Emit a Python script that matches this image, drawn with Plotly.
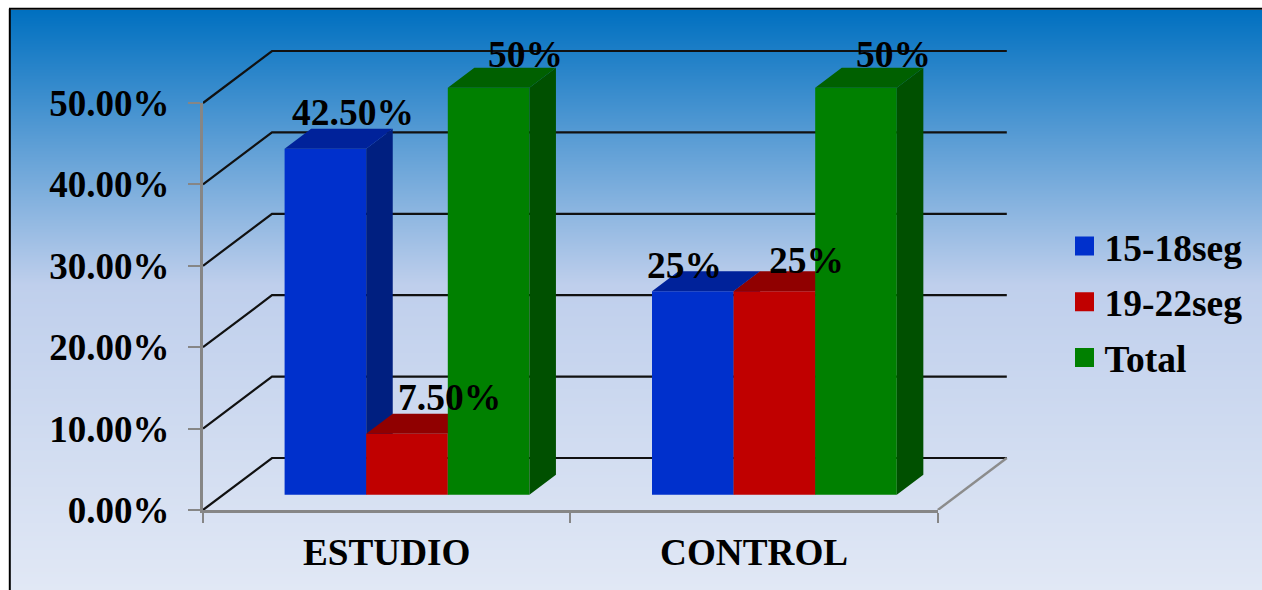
import plotly.graph_objects as go

# ---- data -------------------------------------------------------------
categories = ["ESTUDIO", "CONTROL"]
series_names = ["15-18seg", "19-22seg", "Total"]
values_15_18 = [42.5, 25]
values_19_22 = [7.5, 25]
values_total = [50, 50]
labels_15_18 = ["42.50%", "25%"]
labels_19_22 = ["7.50%", "25%"]
labels_total = ["50%", "50%"]
y_ticks = [0, 10, 20, 30, 40, 50]
y_tick_labels = ["0.00%", "10.00%", "20.00%", "30.00%", "40.00%", "50.00%"]

# ---- style ------------------------------------------------------------
W, H = 1262, 590
FONT = "Liberation Serif"
FS_Y, FS_X, FS_LAB, FS_LEG = 37, 37.2, 37.5, 37.5
front = ["#0030CC", "#C00000", "#008000"]
side = ["#001F80", "#800000", "#005000"]
top = ["#00229A", "#900000", "#006000"]
# label offsets in pixels from front-face top centre
lab_dx = [[28, -8], [42, 32], [37, 37]]
lab_dy = [[36, 26], [36, 31], [33, 33]]

X0, Y0 = 203, 510        # pixel of the front-left axis corner
SX, SY = 367.4, 8.14     # px per category, px per percent
DX, DY = 69 / SX, 52 / SY  # full floor depth in data units
D0, D1 = 15.3 / 52, 35.3 / 52  # bar depth span, fraction of floor
BW = 81.6 / SX

series = [values_15_18, values_19_22, values_total]
labels = [labels_15_18, labels_19_22, labels_total]

fig = go.Figure()

# background gradient
bg_y = [10, 285, 590]
bg_z = [[0, 0], [0.5, 0.5], [1, 1]]
fig.add_trace(go.Heatmap(x=[0, W], y=bg_y, z=bg_z, zsmooth="best", showscale=False, hoverinfo="skip",
                         colorscale=[[0, "#0070C0"], [0.5, "#BFCFEC"], [1, "#E1E8F5"]], zmin=0, zmax=1,
                         xaxis="x", yaxis="y"))

# back wall lines
wx, wy = [], []
for v in y_ticks:
    wx += [0, DX, 2 + DX, None]
    wy += [v, v + DY, v + DY, None]
fig.add_trace(go.Scatter(x=wx, y=wy, mode="lines", line=dict(color="#111111", width=2.2), showlegend=False,
                         hoverinfo="skip", xaxis="x2", yaxis="y2"))
fig.add_trace(go.Scatter(x=[2, 2 + DX], y=[0, DY], mode="lines", line=dict(color="#8C8C8C", width=2.4),
                         showlegend=False, hoverinfo="skip", xaxis="x2", yaxis="y2"))

# one layer per series so that later series cover the depth faces of earlier ones
for j, vals in enumerate(series):
    ax = j + 3
    xa, ya = f"x{ax}", f"y{ax}"
    base = D0 * DY
    centers = [i + 0.5 + (j - 1) * BW + D0 * DX for i in range(len(categories))]
    fig.add_trace(go.Bar(x=centers, y=vals, base=base, width=BW, marker=dict(color=front[j], line=dict(width=0)),
                         showlegend=False, hoverinfo="skip", xaxis=xa, yaxis=ya))
    ddx, ddy = (D1 - D0) * DX, (D1 - D0) * DY
    sx, sy, tx, ty = [], [], [], []
    for c, v in zip(centers, vals):
        xl, xr = c - BW / 2, c + BW / 2
        yt = base + v
        sx += [xr, xr + ddx, xr + ddx, xr, xr, None]
        sy += [base, base + ddy, yt + ddy, yt, base, None]
        tx += [xl, xr, xr + ddx, xl + ddx, xl, None]
        ty += [yt, yt, yt + ddy, yt + ddy, yt, None]
    for px, py, col in ((sx, sy, side[j]), (tx, ty, top[j])):
        fig.add_trace(go.Scatter(x=px, y=py, mode="lines", fill="toself", fillcolor=col, line=dict(width=0, color=col),
                                 showlegend=False, hoverinfo="skip", xaxis=xa, yaxis=ya))
    # legend entry
    fig.add_trace(go.Scatter(x=[None], y=[None], mode="markers", name=series_names[j], legendgroup=series_names[j],
                             marker=dict(symbol="square", size=16, color=front[j], line=dict(width=3, color=front[j])),
                             xaxis=xa, yaxis=ya))
    for i, (c, v) in enumerate(zip(centers, vals)):
        fig.add_annotation(x=c, y=base + v, xref=xa, yref=ya, text=labels[j][i], showarrow=False,
                           xshift=lab_dx[j][i], yshift=lab_dy[j][i], xanchor="center", yanchor="middle",
                           font=dict(family=FONT, size=FS_LAB, color="black", weight="bold"))

# visible front axes
fig.add_trace(go.Scatter(x=[None], y=[None], showlegend=False, hoverinfo="skip", xaxis="x6", yaxis="y6"))

def px_x(a, b):
    return [a / W, b / W]

def px_y(bottom, t):
    return [1 - bottom / H, 1 - t / H]

wide_x = dict(domain=px_x(X0, 1010), range=[0, (1010 - X0) / SX], visible=False, fixedrange=True)
wide_y = dict(domain=px_y(Y0, 40), range=[0, (Y0 - 40) / SY], visible=False, fixedrange=True)

layout = dict(
    width=W, height=H, margin=dict(l=0, r=0, t=0, b=0, pad=0, autoexpand=False),
    paper_bgcolor="white", plot_bgcolor="rgba(0,0,0,0)", barmode="overlay",
    xaxis=dict(domain=[10 / W, 1], range=[10, W], visible=False, fixedrange=True),
    yaxis=dict(domain=[0, 1 - 10 / H], range=[590, 10], visible=False, fixedrange=True),
    legend=dict(x=1064.5 / W, y=1 - 215 / H, xanchor="left", yanchor="top", bgcolor="rgba(0,0,0,0)",
                font=dict(family=FONT, size=FS_LEG, color="black", weight="bold"), traceorder="grouped",
                tracegroupgap=4, itemwidth=30),
    font=dict(family=FONT, size=FS_Y, color="black", weight="bold"),
    shapes=[
        dict(type="line", xref="paper", yref="paper", x0=9.8 / W, x1=9.8 / W, y0=0, y1=1 - 8.8 / H,
             line=dict(color="black", width=2), layer="above"),
        dict(type="line", xref="paper", yref="paper", x0=9 / W, x1=1, y0=1 - 8.8 / H, y1=1 - 8.8 / H,
             line=dict(color="black", width=2), layer="above"),
    ],
)
for n in (2, 3, 4, 5):
    layout[f"xaxis{n}"] = dict(wide_x, anchor=f"y{n}")
    layout[f"yaxis{n}"] = dict(wide_y, anchor=f"x{n}")
layout["xaxis6"] = dict(
    domain=px_x(X0, X0 + 2 * SX), range=[0, 2], anchor="y6", showline=True, linecolor="#868686", linewidth=3,
    tickmode="array", tickvals=[0.5, 1.5], ticktext=categories, ticks="", showgrid=False, zeroline=False,
    ticklabelstandoff=7, tickfont=dict(family=FONT, size=FS_X, color="black", weight="bold"),
    minor=dict(tickmode="array", tickvals=[0, 1, 2], ticks="outside", ticklen=10, tickwidth=2, tickcolor="#868686",
               showgrid=False),
    fixedrange=True,
)
layout["yaxis6"] = dict(
    domain=px_y(Y0, Y0 - 50 * SY), range=[0, 50], anchor="x6", showline=True, linecolor="#868686", linewidth=3,
    tickmode="array", tickvals=y_ticks, ticktext=y_tick_labels, ticks="outside", ticklen=12, tickwidth=2,
    tickcolor="#868686", showgrid=False, zeroline=False, ticklabelstandoff=11,
    tickfont=dict(family=FONT, size=FS_Y, color="black", weight="bold"), fixedrange=True,
)
fig.update_layout(**layout)

fig.write_html("out.html", config=dict(displayModeBar=False),
               post_script="document.body.style.margin='0';")
